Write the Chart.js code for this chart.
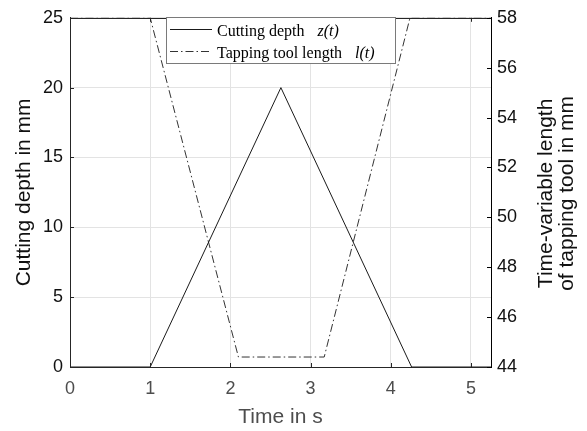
<!DOCTYPE html>
<html>
<head>
<meta charset="utf-8">
<script src="https://cdn.jsdelivr.net/npm/chart.js@4.4.1/dist/chart.umd.min.js"></script>
<style>
  html, body { margin: 0; padding: 0; background: #fff; }
</style>
</head>
<body>
<canvas id="chart" width="587" height="431"></canvas>
<script>
// cutting depth z(t) in mm
const depthTime = [0, 1, 2.63, 4.26, 5.25];
const depthValues = [0, 0, 20, 0, 0];

// tapping tool length l(t) in mm
const lengthTime = [0, 1, 2.1, 3.17, 4.24, 5.25];
const lengthValues = [58, 58, 44.4, 44.4, 58, 58];

const seriesNames = ['Cutting depth', 'Tapping tool length'];
const seriesSymbols = ['z(t)', 'l(t)'];

const xTitle = 'Time in s';
const yTitle = 'Cutting depth in mm';
const y2Title = ['Time-variable length', 'of tapping tool in mm'];

const SANS = "'Liberation Sans', Arial, sans-serif";
const SERIF = "'Liberation Serif', 'Times New Roman', serif";
const AXIS = '#262626';
const GRID = '#e3e3e3';
const DASHDOT = [8, 3, 1.5, 3];

function toPoints(xs, ys) {
  return xs.map((x, i) => ({x: x, y: ys[i]}));
}

const extras = {
  id: 'extras',
  afterDraw(chart) {
    const ctx = chart.ctx;
    const a = chart.chartArea;
    const sx = chart.scales.x, sy = chart.scales.y, sy2 = chart.scales.y2;
    ctx.save();

    // top box edge
    ctx.strokeStyle = AXIS;
    ctx.lineWidth = 1;
    ctx.beginPath();
    ctx.moveTo(a.left, Math.round(a.top) + 0.5);
    ctx.lineTo(a.right, Math.round(a.top) + 0.5);
    ctx.stroke();

    // inward tick marks
    ctx.beginPath();
    sx.ticks.forEach(t => {
      const px = Math.round(sx.getPixelForValue(t.value)) + 0.5;
      ctx.moveTo(px, a.bottom); ctx.lineTo(px, a.bottom - 4);
      ctx.moveTo(px, a.top); ctx.lineTo(px, a.top + 4);
    });
    sy.ticks.forEach(t => {
      const py = Math.round(sy.getPixelForValue(t.value)) + 0.5;
      ctx.moveTo(a.left, py); ctx.lineTo(a.left + 4, py);
    });
    ctx.stroke();
    ctx.strokeStyle = '#000';
    ctx.beginPath();
    sy2.ticks.forEach(t => {
      const py = Math.round(sy2.getPixelForValue(t.value)) + 0.5;
      ctx.moveTo(a.right, py); ctx.lineTo(a.right - 4, py);
    });
    ctx.stroke();

    // legend
    const bx = 166, by = 17, bw = 229, bh = 46;
    ctx.fillStyle = '#fff';
    ctx.fillRect(bx, by, bw, bh);
    ctx.strokeStyle = '#7a7a7a';
    ctx.strokeRect(bx + 0.5, by + 0.5, bw, bh);
    chart.data.datasets.forEach((ds, i) => {
      const ly = 29.5 + i * 22;
      ctx.strokeStyle = ds.borderColor;
      ctx.lineWidth = 1;
      ctx.setLineDash(ds.borderDash || []);
      ctx.beginPath();
      ctx.moveTo(170, ly);
      ctx.lineTo(212, ly);
      ctx.stroke();
      ctx.setLineDash([]);
      ctx.fillStyle = '#000';
      ctx.textAlign = 'left';
      ctx.textBaseline = 'alphabetic';
      ctx.font = '16px ' + SERIF;
      ctx.fillText(seriesNames[i], 217, ly + 6.5);
      const w = ctx.measureText(seriesNames[i]).width;
      ctx.font = 'italic 16px ' + SERIF;
      ctx.fillText(seriesSymbols[i], 217 + w + 13, ly + 6.5);
    });

    // right axis title, reading upward
    ctx.fillStyle = '#111';
    ctx.font = '21px ' + SANS;
    ctx.textAlign = 'center';
    ctx.textBaseline = 'alphabetic';
    ctx.translate(551.5, (a.top + a.bottom) / 2 + 1);
    ctx.rotate(-Math.PI / 2);
    y2Title.forEach((line, i) => ctx.fillText(line, 0, i * 21));

    ctx.restore();
  }
};

new Chart(document.getElementById('chart'), {
  type: 'line',
  data: {
    datasets: [{
      label: seriesNames[0],
      data: toPoints(depthTime, depthValues),
      yAxisID: 'y',
      borderColor: '#1a1a1a',
      borderWidth: 1
    }, {
      label: seriesNames[1],
      data: toPoints(lengthTime, lengthValues),
      yAxisID: 'y2',
      borderColor: '#333',
      borderWidth: 1,
      borderDash: DASHDOT
    }]
  },
  options: {
    responsive: false,
    animation: false,
    layout: {
      padding: {top: 14, left: 0, right: 0, bottom: 0}
    },
    elements: {
      point: {radius: 0},
      line: {tension: 0}
    },
    plugins: {
      legend: {display: false},
      tooltip: {enabled: false}
    },
    scales: {
      x: {
        type: 'linear',
        min: 0,
        max: 5.25,
        afterFit: s => { s.height = 64; },
        ticks: {
          stepSize: 1,
          includeBounds: false,
          padding: 11,
          color: '#4d4d4d',
          font: {family: SANS, size: 18}
        },
        grid: {color: GRID, drawTicks: false},
        border: {color: AXIS},
        title: {
          display: true,
          text: xTitle,
          color: '#4d4d4d',
          font: {family: SANS, size: 21},
          padding: {top: 0, bottom: 1}
        }
      },
      y: {
        position: 'left',
        min: 0,
        max: 25,
        afterFit: s => { s.width = 70; },
        ticks: {
          stepSize: 5,
          padding: 7,
          color: '#111',
          font: {family: SANS, size: 18}
        },
        grid: {color: GRID, drawTicks: false},
        border: {color: AXIS},
        title: {
          display: true,
          text: yTitle,
          color: '#111',
          font: {family: SANS, size: 21},
          padding: {top: 12, bottom: 0}
        }
      },
      y2: {
        position: 'right',
        min: 44,
        max: 58,
        afterFit: s => { s.width = 96; },
        ticks: {
          stepSize: 2,
          padding: 6,
          color: '#111',
          font: {family: SANS, size: 18}
        },
        grid: {drawOnChartArea: false, drawTicks: false},
        border: {color: '#000'}
      }
    }
  },
  plugins: [extras]
});
</script>
</body>
</html>
